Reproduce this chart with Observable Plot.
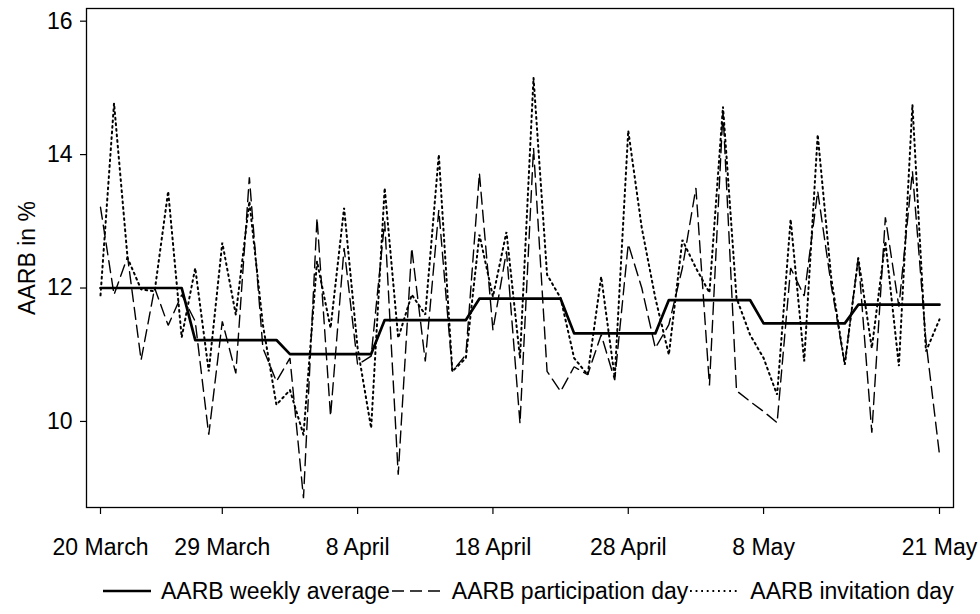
<!DOCTYPE html>
<html>
<head>
<meta charset="utf-8">
<script src="https://cdn.jsdelivr.net/npm/d3@7"></script>
<script src="https://cdn.jsdelivr.net/npm/@observablehq/plot@0.6"></script>
<style>
  html, body { margin: 0; padding: 0; background: #fff; }
  body { width: 980px; height: 614px; overflow: hidden; font-family: "Liberation Sans", Arial, sans-serif; }
  #legend { display: flex; align-items: center; height: 46px; padding-left: 103px; font-size: 23px; color: #000; white-space: nowrap; }
  #legend .item { display: flex; align-items: center; }
  #legend svg { display: block; }
</style>
</head>
<body>
<div id="chart"></div>
<div id="legend"></div>
<script>
// Day index 0 = 20 March (2020), 62 = 21 May
const participationDay = [
  13.21, 11.90, 12.47, 10.92, 12.00, 11.44, 11.90,
  11.50, 9.80, 11.50, 10.72, 13.66, 11.10, 10.60,
  10.95, 8.85, 13.05, 10.08, 12.60, 10.85, 10.98,
  13.00, 9.20, 12.60, 10.90, 13.17, 10.75, 11.00,
  13.72, 11.37, 12.55, 9.97, 14.10, 10.75, 10.45,
  10.82, 10.70, 11.30, 10.62, 12.66, 12.00, 11.10,
  11.45, 12.30, 13.50, 10.54, 14.65, 10.46, 10.30,
  10.15, 9.98, 12.30, 11.88, 13.45, 12.04, 10.86,
  12.46, 9.83, 13.06, 11.72, 13.75, 11.20, 9.50
];
const invitationDay = [
  11.89, 14.77, 12.45, 11.98, 11.95, 13.45, 11.26,
  12.30, 10.75, 12.68, 11.60, 13.30, 11.45, 10.25,
  10.47, 9.80, 12.40, 11.40, 13.20, 11.10, 9.90,
  13.50, 11.25, 11.90, 11.60, 14.00, 10.75, 10.95,
  12.80, 11.87, 12.84, 10.95, 15.15, 12.20, 11.85,
  10.95, 10.70, 12.17, 10.66, 14.36, 12.90, 11.85,
  11.00, 12.72, 12.30, 11.93, 14.72, 11.85, 11.30,
  10.95, 10.40, 13.03, 10.90, 14.30, 12.15, 10.85,
  12.45, 11.10, 12.70, 10.83, 14.75, 11.05, 11.53
];
const weeklyAverage = [12.00, 11.22, 11.01, 11.52, 11.84, 11.32, 11.82, 11.47, 11.75];
const tickDays = [0, 9, 19, 29, 39, 49, 62];
const tickLabels = ["20 March", "29 March", "8 April", "18 April", "28 April", "8 May", "21 May"];
const yTicks = [10, 12, 14, 16];
const seriesNames = ["AARB weekly average", "AARB participation day", "AARB invitation day"];

const rows = participationDay.map((p, d) => ({
  day: d,
  participation: p,
  invitation: invitationDay[d],
  weekly: weeklyAverage[Math.floor(d / 7)]
}));

const styles = [
  {strokeWidth: 2.7, strokeDasharray: null},
  {strokeWidth: 1.4, strokeDasharray: "12,6"},
  {strokeWidth: 2.0, strokeDasharray: "1.8,3.8"}
];

const chart = Plot.plot({
  width: 980,
  height: 568,
  marginLeft: 86,
  marginRight: 27,
  marginTop: 8,
  marginBottom: 61,
  style: {fontFamily: "'Liberation Sans', Arial, sans-serif", fontSize: "23px", color: "#000", background: "#fff"},
  x: {domain: [-1.035, 63.035]},
  y: {domain: [8.71, 16.19]},
  marks: [
    Plot.line(rows, {x: "day", y: "invitation", stroke: "#000", strokeWidth: styles[2].strokeWidth, strokeDasharray: styles[2].strokeDasharray, strokeLinejoin: "miter", curve: "linear"}),
    Plot.line(rows, {x: "day", y: "participation", stroke: "#000", strokeWidth: styles[1].strokeWidth, strokeDasharray: styles[1].strokeDasharray, strokeLinejoin: "miter", curve: "linear"}),
    Plot.line(rows, {x: "day", y: "weekly", stroke: "#000", strokeWidth: styles[0].strokeWidth, curve: "linear"}),
    Plot.frame({stroke: "#000", strokeWidth: 1.3}),
    Plot.axisX({ticks: tickDays, tickFormat: d => tickLabels[tickDays.indexOf(d)], tickSize: 7, tickPadding: 24, label: null, fontSize: 23, strokeWidth: 1.2}),
    Plot.axisY({ticks: yTicks, tickSize: 6, tickPadding: 8, label: "AARB in %", labelAnchor: "center", labelOffset: 68, labelArrow: "none", fontSize: 23, strokeWidth: 1.2})
  ]
});
document.getElementById("chart").appendChild(chart);

// Legend
const legend = d3.select("#legend");
seriesNames.forEach((name, i) => {
  const item = legend.append("div").attr("class", "item");
  const svg = item.append("svg").attr("width", 48).attr("height", 12)
    .style("margin-right", i === 0 ? "10px" : "12px");
  svg.append("line").attr("x1", 0).attr("x2", 48).attr("y1", 6).attr("y2", 6)
    .attr("stroke", "#000")
    .attr("stroke-width", styles[i].strokeWidth)
    .attr("stroke-dasharray", styles[i].strokeDasharray);
  item.append("span").text(name).style("margin-right", "2px");
});
</script>
</body>
</html>
